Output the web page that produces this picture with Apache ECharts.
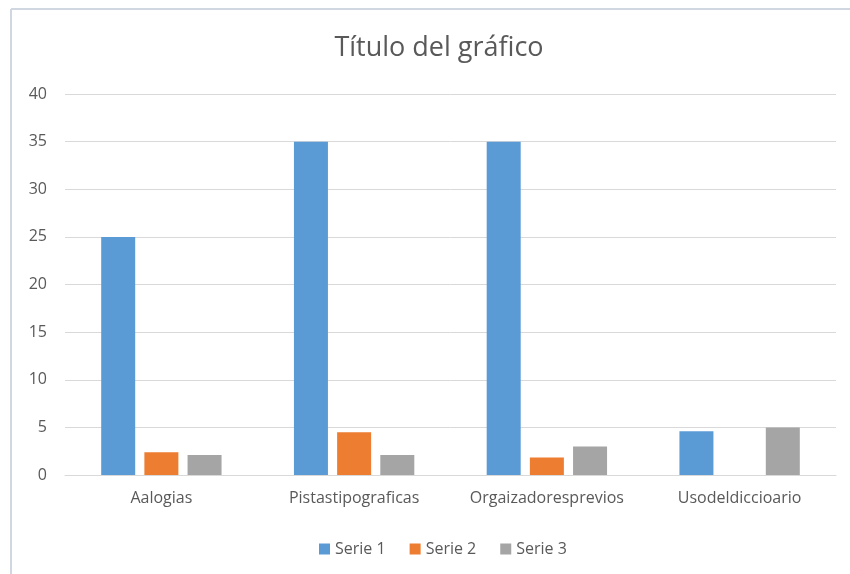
<!DOCTYPE html>
<html>
<head>
<meta charset="utf-8">
<script src="https://cdn.jsdelivr.net/npm/echarts@6/dist/echarts.min.js"></script>
<style>
html, body { margin: 0; padding: 0; background: #fff; }
#chart { width: 850px; height: 574px; }
</style>
</head>
<body>
<div id="chart"></div>
<script>
//datos del gráfico
var categorias = ['Aalogias', 'Pistastipograficas', 'Orgaizadoresprevios', 'Usodeldiccioario'];
var serie1 = [25, 35, 35, 4.6];
var serie2 = [2.4, 4.5, 1.85, null];
var serie3 = [2.1, 2.1, 3, 5];
var nombres = ['Serie 1', 'Serie 2', 'Serie 3'];
var colores = ['#5b9bd5', '#ed7d31', '#a5a5a5'];

var fuente = '"Open Sans", "Liberation Sans", sans-serif';

function initChart(chartId) {
	var chart = echarts.init(document.getElementById(chartId));
	return chart;
}

function barSeries(name, data, color) {
	return {
		name : name,
		type : 'bar',
		data : data,
		barWidth : 34,
		barGap : '27%',
		itemStyle : { color : color },
		emphasis : { disabled : true }
	};
}

var chart = initChart('chart');
var option = {
	animation : false,
	color : colores,
	title : {
		text : 'Título del gráfico',
		left : 434,
		top : 30,
		textAlign : 'center',
		textStyle : {
			fontFamily : fuente,
			fontSize : 27,
			fontWeight : 'normal',
			color : '#595959'
		}
	},
	legend : {
		data : nombres,
		left : 314,
		top : 536,
		itemWidth : 11,
		itemHeight : 11,
		itemGap : 24,
		icon : 'rect',
		textStyle : { fontFamily : fuente, fontSize : 16, color : '#595959' }
	},
	grid : {
		left : 65,
		right : 14,
		top : 94,
		bottom : 99
	},
	xAxis : {
		type : 'category',
		data : categorias,
		axisTick : { show : false },
		axisLine : { lineStyle : { color : '#d9d9d9', width : 1 } },
		axisLabel : { interval : 0, fontFamily : fuente, fontSize : 16, color : '#595959', margin : 15 }
	},
	yAxis : {
		type : 'value',
		min : 0,
		max : 40,
		interval : 5,
		axisLine : { show : false },
		axisTick : { show : false },
		axisLabel : { fontFamily : fuente, fontSize : 16, color : '#595959', margin : 18 },
		splitLine : { lineStyle : { color : '#d9d9d9', width : 1 } }
	},
	graphic : [
		{ type : 'line', shape : { x1 : 11, y1 : 9, x2 : 850, y2 : 9 }, style : { stroke : '#d0d7e0', lineWidth : 2 } },
		{ type : 'line', shape : { x1 : 11, y1 : 9, x2 : 11, y2 : 574 }, style : { stroke : '#d0d7e0', lineWidth : 2 } }
	],
	series : [
		barSeries(nombres[0], serie1, colores[0]),
		barSeries(nombres[1], serie2, colores[1]),
		barSeries(nombres[2], serie3, colores[2])
	]
};
chart.setOption(option, true);
</script>
</body>
</html>
